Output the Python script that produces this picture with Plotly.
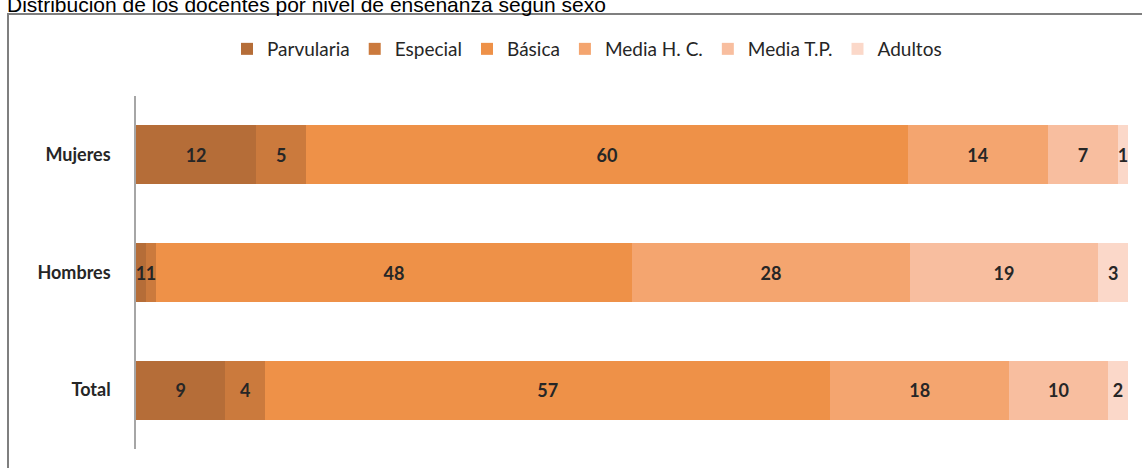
import plotly.graph_objects as go

categories = ["Mujeres", "Hombres", "Total"]
series_names = ["Parvularia", "Especial", "Básica", "Media H. C.", "Media T.P.", "Adultos"]
parvularia = [12, 1, 9]
especial = [5, 1, 4]
basica = [60, 48, 57]
media_hc = [14, 28, 18]
media_tp = [7, 19, 10]
adultos = [1, 3, 2]
series_values = [parvularia, especial, basica, media_hc, media_tp, adultos]
colors = ["#B56D38", "#CB7A3D", "#EE9148", "#F4A56F", "#F8BE9F", "#FBD8C9"]
title_text = "Distribución de los docentes por nivel de enseñanza según sexo"

FONT = "Lato"
TXT = "#262626"

W, H = 1142, 468
L, R, T, B = 136, 14, 96, 19
PW, PH = W - L - R, H - T - B

fig = go.Figure()
for name, vals, col in zip(series_names, series_values, colors):
    fig.add_trace(go.Bar(
        y=categories, x=vals, name=name, orientation="h",
        marker=dict(color=col, line=dict(width=0)),
        text=[str(v) for v in vals], textposition="inside",
        insidetextanchor="middle", textangle=0,
        textfont=dict(family=FONT, size=18, color=TXT, weight="bold"),
        hoverinfo="skip",
    ))

fig.update_layout(
    barmode="stack", barnorm="percent", bargap=0.5,
    width=W, height=H,
    margin=dict(l=L, r=R, t=T, b=B),
    paper_bgcolor="white", plot_bgcolor="white",
    uniformtext=dict(minsize=18, mode="show"),
    showlegend=True,
    legend=dict(orientation="h", x=(587 - L) / PW, xanchor="center",
                y=1 + (T - 49) / PH, yanchor="middle",
                font=dict(family=FONT, size=19, color=TXT), itemwidth=30,
                traceorder="normal", bgcolor="rgba(0,0,0,0)"),
    xaxis=dict(range=[0, 100], visible=False, fixedrange=True),
    yaxis=dict(categoryorder="array", categoryarray=categories[::-1],
               showline=True, linecolor="#A6A6A6", linewidth=1.5,
               ticks="", showgrid=False, ticklabelstandoff=20, fixedrange=True,
               tickfont=dict(family=FONT, size=18, color=TXT, weight="bold")),
    font=dict(family=FONT),
    shapes=[dict(type="rect", xref="paper", yref="paper",
                 x0=(8 - L) / PW, x1=1.05, y0=-0.2, y1=1 + (T - 14) / PH,
                 line=dict(color="#7F7F7F", width=2), fillcolor="rgba(0,0,0,0)",
                 layer="below")],
    annotations=[dict(text=title_text, xref="paper", yref="paper",
                      x=(5 - L) / PW, xanchor="left",
                      y=1 + (T - 18) / PH, yanchor="bottom", showarrow=False,
                      font=dict(family="Liberation Sans", size=21, color="#000000"))],
)

fig.write_html("out.html", config={"displayModeBar": False},
               post_script="document.body.style.margin='0';")
